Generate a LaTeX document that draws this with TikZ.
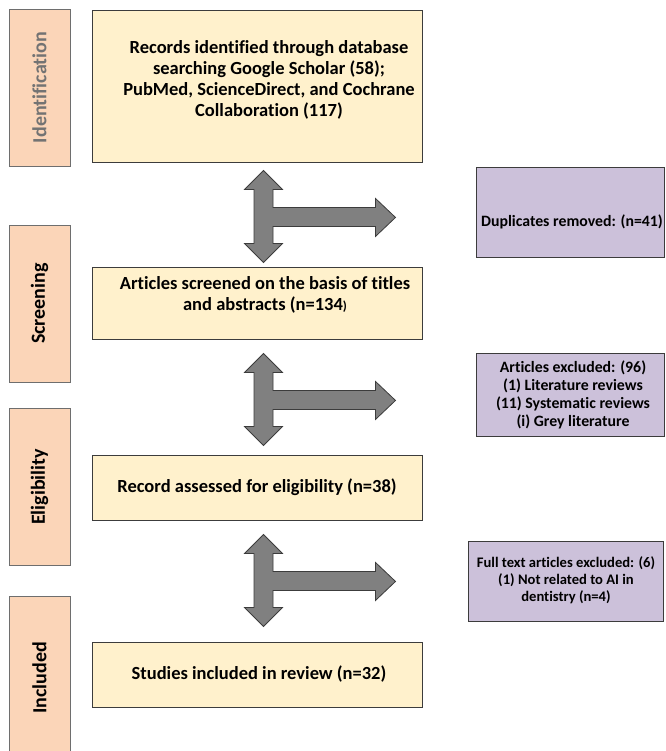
\documentclass[tikz,border=0pt]{standalone}
\usepackage{fontspec}
\setmainfont{Carlito}[Ligatures=NoCommon]
\usetikzlibrary{positioning}

\definecolor{stagefill}{HTML}{FBD5B8}
\definecolor{stageline}{HTML}{6E6E6E}
\definecolor{mainfill}{HTML}{FFF1CC}
\definecolor{sidefill}{HTML}{CCC1DA}
\definecolor{boxline}{HTML}{3C3C3C}
\definecolor{arrowfill}{HTML}{808080}
\definecolor{identtext}{HTML}{737373}

\tikzset{
  triarrow/.pic={
    \draw[draw=boxline, fill=arrowfill, line width=0.8pt, line join=miter]
      (0,0) -- (19,19) -- (9.5,19) -- (9.5,37) -- (112,37) -- (112,28)
      -- (132,47) -- (112,66) -- (112,56) -- (9.5,56) -- (9.5,73)
      -- (19,73) -- (0,92) -- (-19,73) -- (-9.5,73) -- (-9.5,19)
      -- (-19,19) -- cycle;
  }
}

\begin{document}
\begin{tikzpicture}[x=1pt,y=-1pt,font=\bfseries]
  \tikzstyle{stage}=[draw=stageline, fill=stagefill, line width=0.9pt, rotate=90,
    minimum width=157pt, minimum height=61pt, inner sep=0pt,
    font=\bfseries\fontsize{20}{24}\selectfont]
  \tikzstyle{mainbox}=[draw=boxline, fill=mainfill, line width=0.9pt,
    minimum width=330pt, inner sep=0pt]
  \tikzstyle{sidebox}=[draw=boxline, fill=sidefill, line width=0.9pt, inner sep=0pt]
  \tikzstyle{maintext}=[align=center, inner sep=0pt,
    font=\bfseries\fontsize{18.5}{21}\selectfont]
  \tikzstyle{sidetext}=[align=center, inner sep=0pt,
    font=\bfseries\fontsize{15.8}{18}\selectfont]

  \useasboundingbox (0,0) rectangle (665,751);

  \node[stage, text=identtext] (ident) at (39.5,87.5) {Identification};
  \node[stage] (screen) at (39.5,303.5) {Screening};
  \node[stage] (elig) at (39.5,487) {Eligibility};
  \node[stage, minimum width=164pt] (incl) at (39.5,678) {Included};

  \node[mainbox, minimum height=152pt] (records) at (257,86) {};
  \node[mainbox, minimum height=72pt] (screened) at (257,303) {};
  \node[mainbox, minimum height=65pt] (assessed) at (257,487.5) {};
  \node[mainbox, minimum height=65pt] (studies) at (257,674.5) {};

  \node[maintext] (recordsText) at (269,79.5)
    {Records identified through database\\searching Google Scholar (58);\\
     PubMed, ScienceDirect, and Cochrane\\Collaboration (117)};
  \node[maintext] (screenedText) at (265,295)
    {Articles screened on the basis of titles\\
     and abstracts (n=134{\fontsize{13}{13}\selectfont)}};
  \node[maintext] (assessedText) at (257,487) {Record assessed for eligibility (n=38)};
  \node[maintext] (studiesText) at (259,674) {Studies included in review (n=32)};

  \node[sidebox, minimum width=188pt, minimum height=90pt] (dups) at (570,212) {};
  \node[sidebox, minimum width=188pt, minimum height=83pt] (excl) at (570,394.5) {};
  \node[sidebox, minimum width=195pt, minimum height=80pt] (fulltext) at (565.5,581) {};

  \node[sidetext] (dupsText) at (572,222) {Duplicates removed: (n=41)};
  \node[sidetext] (exclText) at (573,395)
    {Articles excluded: (96)\\(1) Literature reviews\\(11) Systematic reviews\\(i) Grey literature};
  \node[sidetext, font=\bfseries\fontsize{14.6}{17}\selectfont] (fulltextText) at (566,580)
    {Full text articles excluded: (6)\\(1) Not related to AI in\\dentistry (n=4)};

  \pic at ([shift={(6.5,8)}]records.south) {triarrow};
  \pic at ([shift={(6.5,14)}]screened.south) {triarrow};
  \pic at ([shift={(6.5,14)}]assessed.south) {triarrow};
\end{tikzpicture}
\end{document}
